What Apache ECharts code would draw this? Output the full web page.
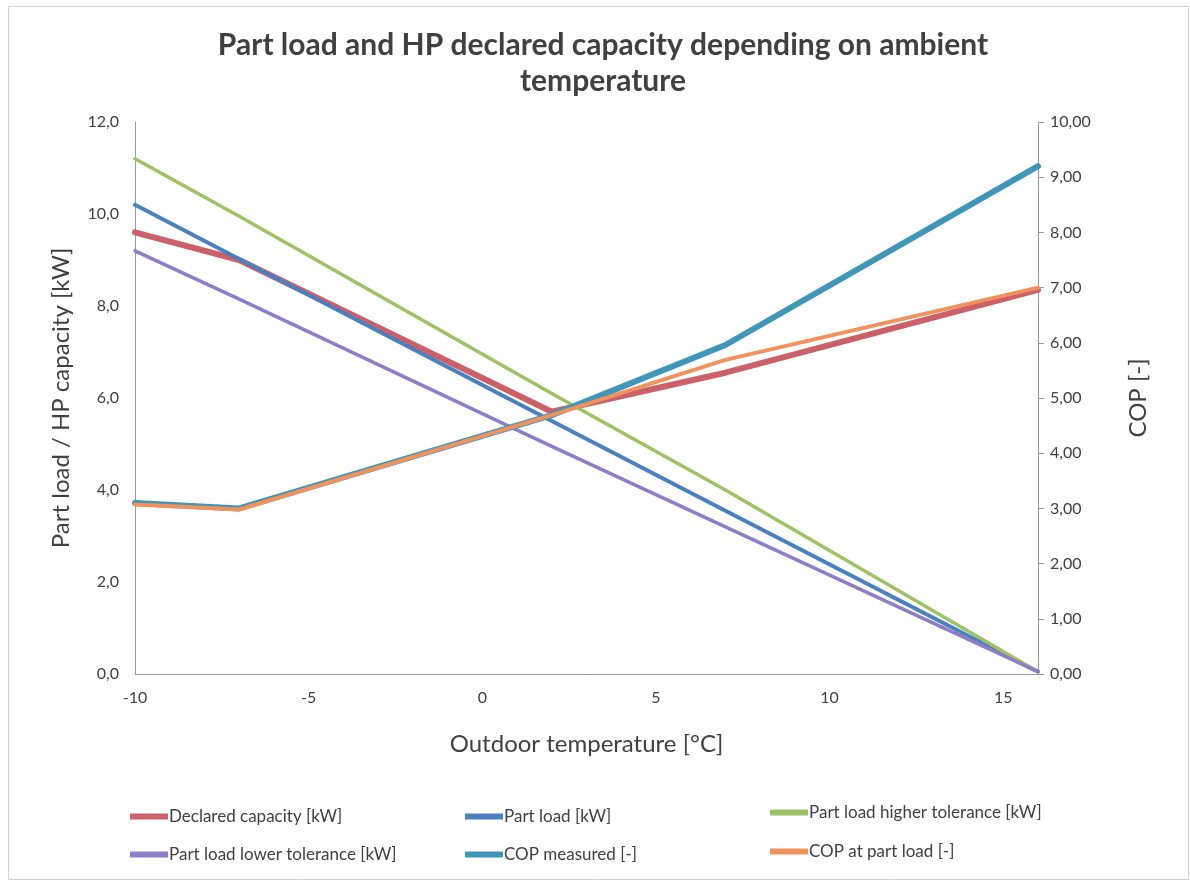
<!DOCTYPE html>
<html><head><meta charset="utf-8">
<script src="https://cdn.jsdelivr.net/npm/echarts@6/dist/echarts.min.js"></script>
<style>html,body{margin:0;padding:0;background:#fff}#c{width:1190px;height:881px}</style>
</head><body><div id="c"></div>
<script>
const temps = [-10, -7, 2, 7, 16];
const declaredCapacity = [9.6, 9.0, 5.7, 6.55, 8.35];
const partLoad = [10.2, 9.02, 5.5, 3.55, 0.05];
const partLoadHigher = [11.2, 9.95, 6.1, 4.0, 0.05];
const partLoadLower = [9.2, 8.15, 4.95, 3.2, 0.05];
const copMeasured = [3.1, 3.0, 4.69, 5.96, 9.2];
const copPartLoad = [3.07, 2.98, 4.69, 5.69, 7.0];
const seriesNames = ['Declared capacity [kW]', 'Part load [kW]', 'Part load higher tolerance [kW]',
  'Part load lower tolerance [kW]', 'COP measured [-]', 'COP at part load [-]'];

const colors = ['#cc6068', '#4a80c0', '#9cc264', '#8e7ec8', '#3f96b9', '#f1915c'];
const widths = [6, 4, 3.5, 3.5, 6, 4];
const values = [declaredCapacity, partLoad, partLoadHigher, partLoadLower, copMeasured, copPartLoad];
const yIdx = [0, 0, 0, 0, 1, 1];
const FONT = 'Lato';
const txt = '#404040';

const legendPos = [[125, 803], [460, 803], [765, 799], [125, 841], [460, 841], [765, 838]];

const chart = echarts.init(document.getElementById('c'));
chart.setOption({
  backgroundColor: '#fff',
  animation: false,
  textStyle: {fontFamily: FONT},
  title: {
    text: 'Part load and HP declared capacity depending on ambient\ntemperature',
    left: 598, top: 22, textAlign: 'center',
    textStyle: {fontFamily: FONT, fontSize: 30, fontWeight: 'bold', color: txt, lineHeight: 36}
  },
  legend: seriesNames.map((n, i) => ({
    data: [n], left: legendPos[i][0], top: legendPos[i][1],
    icon: 'rect', itemWidth: 38, itemHeight: 6, itemGap: 0,
    textStyle: {fontFamily: FONT, fontSize: 17, color: txt, padding: [0, 0, 0, -4]}
  })),
  grid: {left: 135, right: 152, top: 122, bottom: 207},
  xAxis: {
    type: 'value', min: -10, max: 16, interval: 5,
    name: 'Outdoor temperature [°C]', nameLocation: 'middle', nameGap: 58,
    nameTextStyle: {fontFamily: FONT, fontSize: 24, color: txt},
    axisLine: {onZero: false, lineStyle: {color: '#9a9a9a'}},
    axisTick: {show: false},
    splitLine: {show: false},
    axisLabel: {fontSize: 16, color: txt, margin: 16,
      formatter: v => (v % 5 === 0 ? String(v) : '')}
  },
  yAxis: [{
    type: 'value', min: 0, max: 12, interval: 2,
    name: 'Part load / HP capacity [kW]', nameLocation: 'middle', nameGap: 62,
    nameTextStyle: {fontFamily: FONT, fontSize: 24, color: txt},
    axisLine: {show: true, onZero: false, lineStyle: {color: '#9a9a9a'}},
    axisTick: {show: false},
    splitLine: {show: false},
    axisLabel: {fontSize: 16, color: txt, margin: 16, formatter: v => v.toFixed(1).replace('.', ',')}
  }, {
    type: 'value', min: 0, max: 10, interval: 1, position: 'right',
    name: 'COP [-]', nameLocation: 'middle', nameGap: 88,
    nameTextStyle: {fontFamily: FONT, fontSize: 24, color: txt},
    axisLine: {show: true, onZero: false, lineStyle: {color: '#9a9a9a'}},
    axisTick: {show: true, length: 6, lineStyle: {color: '#9a9a9a'}},
    splitLine: {show: false},
    axisLabel: {fontSize: 16, color: txt, margin: 12, formatter: v => v.toFixed(2).replace('.', ',')}
  }],
  series: seriesNames.map((n, i) => ({
    name: n, type: 'line', yAxisIndex: yIdx[i],
    data: temps.map((t, k) => [t, values[i][k]]),
    showSymbol: false, symbol: 'none',
    color: colors[i],
    lineStyle: {width: widths[i], color: colors[i], join: 'round', cap: 'round'},
    z: 2 + i
  })),
  graphic: [{
    type: 'rect', left: 6, top: 4, shape: {width: 1180, height: 873},
    style: {fill: 'none', stroke: '#d0d0d0', lineWidth: 1}, silent: true
  }]
});
</script></body></html>
